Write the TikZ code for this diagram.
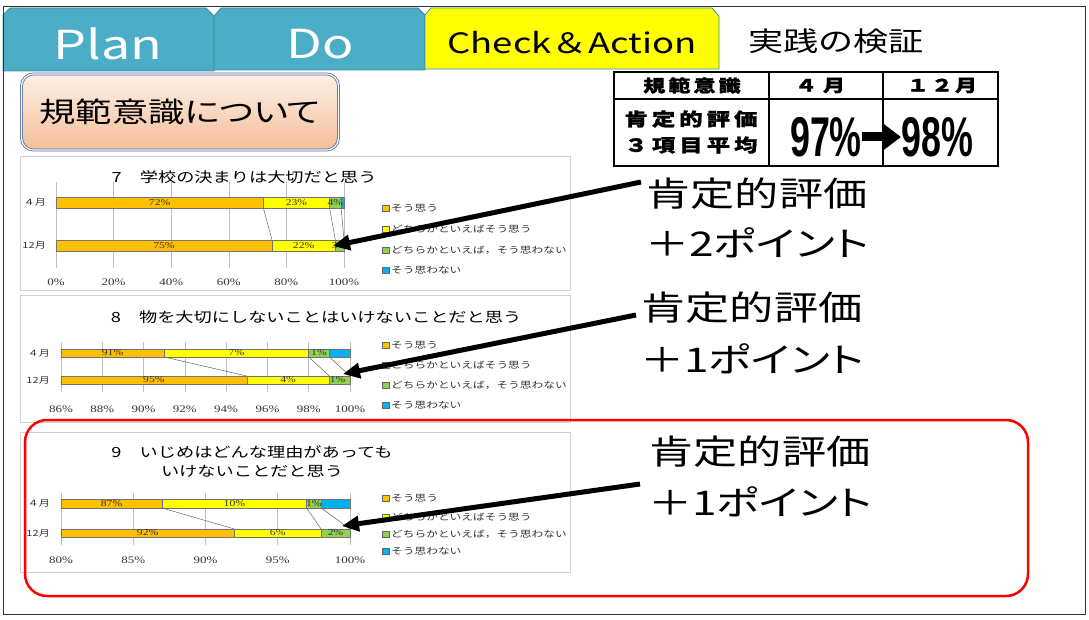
\documentclass[tikz,border=0pt]{standalone}
\usepackage{fontspec}
\usepackage{graphicx}
\usetikzlibrary{arrows.meta}
\newfontfamily\jp[FakeStretch=1.3]{Noto Sans CJK JP}
\newfontfamily\jph[FakeStretch=1.3,BoldFeatures={FakeBold=1.2}]{Noto Sans CJK JP}
\newfontfamily\jpp[FakeStretch=1.3,RawFeature=+palt]{Noto Sans CJK JP}
\newfontfamily\ser[FakeStretch=1.3]{Liberation Serif}
\newfontfamily\bign{Liberation Sans}
\newcommand\fsz[1]{\fontsize{#1}{#1}\selectfont}
\definecolor{tabteal}{RGB}{75,174,198}
\definecolor{tabedge}{RGB}{62,140,162}
\definecolor{cOr}{RGB}{255,192,0}
\definecolor{cYe}{RGB}{255,255,0}
\definecolor{cGr}{RGB}{146,208,80}
\definecolor{cBl}{RGB}{0,176,240}
\definecolor{boxblue}{RGB}{84,110,160}
\definecolor{peachtop}{RGB}{253,240,232}
\definecolor{peachbot}{RGB}{245,190,152}
\definecolor{panelgray}{RGB}{210,210,210}
\newcommand\drawseg[5]{\filldraw[fill=#5,draw=black!55,line width=0.5pt] (#1,#3) rectangle (#2,#4);}
\newcommand\legitem[4]{%
  \node[legsq,fill=#3] (#1s) at (385.5,#2) {};
  \node[legt] (#1t) at (391,#2) {#4};}
\tikzset{
  tabtext/.style={inner sep=0pt,font=\jp\fsz{40}},
  panel/.style={draw=panelgray,line width=0.8pt,fill=white},
  ctitle/.style={inner sep=0pt,font=\jp\fsz{14}},
  rowl/.style={inner sep=0pt,anchor=east,font=\jp\fsz{8.5},text=black!80},
  axl/.style={inner sep=0pt,font=\ser\fsz{10},text=black!80},
  pct/.style={inner sep=0pt,font=\ser\fsz{9},text=black!80},
  grid/.style={draw=black!25,line width=0.6pt},
  serline/.style={draw=black!60,line width=0.5pt},
  legsq/.style={draw=black!60,line width=0.4pt,minimum size=6.5pt,inner sep=0pt},
  legt/.style={anchor=west,inner sep=0pt,font=\jp\fsz{9},text=black!80},
  tbl/.style={line width=1.6pt,draw=black},
  thd/.style={inner sep=0pt,font=\jph\bfseries\fsz{17}},
  big/.style={inner sep=0pt,font=\jpp\fsz{34}},
  bignum/.style={inner sep=0pt,font=\bign\bfseries\fsz{56}},
  bigarr/.style={line width=5pt,-{Triangle[length=17pt,width=15pt]}},
}
\begin{document}
\begin{tikzpicture}[x=1pt,y=-1pt]
\useasboundingbox (0,0) rectangle (1089,620);
\fill[white] (0,0) rectangle (1089,620);
% tabs
\filldraw[fill=tabteal,draw=tabedge,line width=0.8pt] (3,71) -- (3,15) -- (10,8) -- (206,8) -- (214,16) -- (214,71) -- cycle;
\filldraw[fill=tabteal,draw=tabedge,line width=0.8pt] (214,70) -- (214,16) -- (221,8) -- (418,8) -- (425,15) -- (425,70) -- cycle;
\filldraw[fill=cYe,draw=tabedge,line width=0.8pt] (425,69) -- (425,15) -- (431,8) -- (712,8) -- (719,16) -- (719,69) -- cycle;
\node[tabtext,text=white] (plan) at (108,44) {Plan};
\node[tabtext,text=white] (do) at (320,44) {Do};
\node[tabtext,font=\jp\fsz{28}] (check) at (572,43) {Check＆Action};
\node[inner sep=0pt,font=\jp\fsz{27}] (jissen) at (836,41) {実践の検証};
% kihan box
\node[draw=boxblue,double=white,double distance=1.2pt,line width=0.8pt,rounded corners=12pt,
  minimum width=317pt,minimum height=76pt,top color=peachtop,bottom color=peachbot,
  font=\jpp\fsz{28},inner sep=0pt] (kihan) at (180,112) {規範意識について};
% table
\draw[tbl] (614,72) rectangle (998,166);
\draw[tbl] (614,99) -- (998,99);
\draw[tbl] (769,72) -- (769,166);
\draw[tbl] (883,72) -- (883,166);
\node[thd] (h1) at (692,85.5) {規\kern3pt 範\kern3pt 意\kern3pt 識};
\node[thd] (h2) at (820,85.5) {４\kern6pt 月};
\node[thd] (h3) at (942,85.5) {１\kern2pt ２\kern2pt 月};
\node[thd,font=\jph\bfseries\fsz{18}] (r1) at (691,119) {肯\kern4pt 定\kern4pt 的\kern4pt 評\kern4pt 価};
\node[thd,font=\jph\bfseries\fsz{18}] (r2) at (691,145) {３\kern4pt 項\kern4pt 目\kern4pt 平\kern4pt 均};
\node[bignum] (n97) at (826,137) {\scalebox{0.64}[1]{97\%}};
\node[bignum] (n98) at (937,137) {\scalebox{0.64}[1]{98\%}};
\draw[line width=9pt,-{Triangle[length=18pt,width=26pt]}] (n97.east) -- (n98.west);
% ---------- chart 1
\draw[panel] (20,156) rectangle (570,290);
\node[ctitle] (c1t) at (244,177) {7　学校の決まりは大切だと思う};
\node[rowl] (c1r1) at (46,202.5) {４月};
\node[rowl] (c1r2) at (46,245.5) {12月};
\begin{scope}[xshift=56pt,x=2.88pt]
  \foreach \g in {0,20,...,100} {\draw[grid] (\g,182) -- (\g,268);
    \node[axl] (c1x\g) at (\g,282) {\g\%};}
  \drawseg{0}{72}{197}{208}{cOr}\drawseg{72}{95}{197}{208}{cYe}
  \drawseg{95}{99}{197}{208}{cGr}\drawseg{99}{100}{197}{208}{cBl}
  \drawseg{0}{75}{240}{251}{cOr}\drawseg{75}{97}{240}{251}{cYe}
  \drawseg{97}{100}{240}{251}{cGr}
  \draw[serline] (72,208) -- (75,240) (95,208) -- (97,240) (99,208) -- (100,240);
  \node[pct] (c1a) at (36,202.5) {72\%};
  \node[pct] (c1b) at (83.5,202.5) {23\%};
  \node[pct] (c1c) at (97,202.5) {4\%};
  \node[pct] (c1d) at (37.5,245.5) {75\%};
  \node[pct] (c1e) at (86,245.5) {22\%};
  \node[pct] (c1f) at (98.5,245.5) {3\%};
\end{scope}
\legitem{c1l1}{208}{cOr}{そう思う}
\legitem{c1l2}{229}{cYe}{どちらかといえばそう思う}
\legitem{c1l3}{250}{cGr}{どちらかといえば，そう思わない}
\legitem{c1l4}{270}{cBl}{そう思わない}
% ---------- chart 2
\draw[panel] (20,295) rectangle (570,422);
\node[ctitle] (c2t) at (316,317) {8　物を大切にしないことはいけないことだと思う};
\node[rowl] (c2r1) at (50,353) {４月};
\node[rowl] (c2r2) at (50,380) {12月};
\begin{scope}[xshift=-1714.3pt,x=20.643pt]
  \foreach \g in {86,88,...,100} {\draw[grid] (\g,342) -- (\g,392);
    \node[axl] (c2x\g) at (\g,409) {\g\%};}
  \drawseg{86}{91}{349}{357}{cOr}\drawseg{91}{98}{349}{357}{cYe}
  \drawseg{98}{99}{349}{357}{cGr}\drawseg{99}{100}{349}{357}{cBl}
  \drawseg{86}{95}{376}{384}{cOr}\drawseg{95}{99}{376}{384}{cYe}
  \drawseg{99}{100}{376}{384}{cGr}
  \draw[serline] (91,357) -- (95,376) (98,357) -- (99,376) (99,357) -- (100,376);
  \node[pct] (c2a) at (88.5,353) {91\%};
  \node[pct] (c2b) at (94.5,353) {7\%};
  \node[pct] (c2c) at (98.5,353) {1\%};
  \node[pct] (c2d) at (90.5,380) {95\%};
  \node[pct] (c2e) at (97,380) {4\%};
  \node[pct] (c2f) at (99.4,380) {1\%};
\end{scope}
\legitem{c2l1}{345}{cOr}{そう思う}
\legitem{c2l2}{365}{cYe}{どちらかといえばそう思う}
\legitem{c2l3}{385}{cGr}{どちらかといえば，そう思わない}
\legitem{c2l4}{405}{cBl}{そう思わない}
% ---------- chart 3
\draw[panel] (20,432) rectangle (570,572);
\node[ctitle,align=center,font=\jp\fontsize{14}{19}\selectfont] (c3t) at (252,461.5) {9　いじめはどんな理由があっても\\いけないことだと思う};
\node[rowl] (c3r1) at (50,503.5) {４月};
\node[rowl] (c3r2) at (50,533) {12月};
\begin{scope}[xshift=-1095pt,x=14.45pt]
  \foreach \g in {80,85,...,100} {\draw[grid] (\g,493) -- (\g,545);
    \node[axl] (c3x\g) at (\g,560) {\g\%};}
  \drawseg{80}{87}{499}{508}{cOr}\drawseg{87}{97}{499}{508}{cYe}
  \drawseg{97}{98}{499}{508}{cGr}\drawseg{98}{100}{499}{508}{cBl}
  \drawseg{80}{92}{529}{537}{cOr}\drawseg{92}{98}{529}{537}{cYe}
  \drawseg{98}{100}{529}{537}{cGr}
  \draw[serline] (87,508) -- (92,529) (97,508) -- (98,529) (98,508) -- (100,529);
  \node[pct] (c3a) at (83.5,503.5) {87\%};
  \node[pct] (c3b) at (92,503.5) {10\%};
  \node[pct] (c3c) at (97.5,503.5) {1\%};
  \node[pct] (c3d) at (86,533) {92\%};
  \node[pct] (c3e) at (95,533) {6\%};
  \node[pct] (c3f) at (99,533) {2\%};
\end{scope}
\legitem{c3l1}{498}{cOr}{そう思う}
\legitem{c3l2}{517}{cYe}{どちらかといえばそう思う}
\legitem{c3l3}{534}{cGr}{どちらかといえば，そう思わない}
\legitem{c3l4}{551}{cBl}{そう思わない}
% red frame
\draw[draw=red,line width=2.5pt,rounded corners=22pt] (25,420) rectangle (1028,596);
% right texts
\node[big] (t1a) at (757,194) {肯定的評価};
\node[big] (t1b) at (757,243) {＋2ポイント};
\node[big] (t2a) at (752,308) {肯定的評価};
\node[big] (t2b) at (752,359) {＋1ポイント};
\node[big] (t3a) at (760,452) {肯定的評価};
\node[big] (t3b) at (760,502) {＋1ポイント};
% arrows
\coordinate (s1) at (641,182); \coordinate (e1) at (333,246);
\coordinate (s2) at (636,315); \coordinate (e2) at (343,374);
\coordinate (s3) at (640,484); \coordinate (e3) at (342,526);
\draw[bigarr] (s1) -- (e1);
\draw[bigarr] (s2) -- (e2);
\draw[bigarr] (s3) -- (e3);
% frame
\draw[black!80,line width=1pt] (3,7) rectangle (1085,614);
\end{tikzpicture}
\end{document}
